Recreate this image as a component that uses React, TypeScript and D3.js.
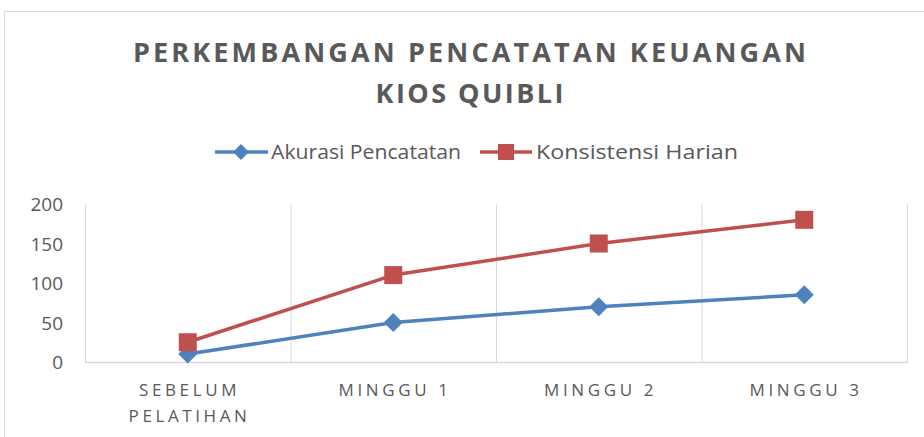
import React from "react";
import * as d3 from "d3";

const categories: string[][] = [["SEBELUM", "PELATIHAN"], ["MINGGU 1"], ["MINGGU 2"], ["MINGGU 3"]];
const akurasi: number[] = [10, 50, 70, 85];
const konsistensi: number[] = [25, 110, 150, 180];
const yTicks: number[] = [0, 50, 100, 150, 200];
const titleLines: string[] = ["PERKEMBANGAN PENCATATAN KEUANGAN", "KIOS QUIBLI"];
const seriesNames: string[] = ["Akurasi Pencatatan", "Konsistensi Harian"];

const W = 924;
const H = 437;
const FONT = "'Open Sans', 'DejaVu Sans', sans-serif";
const TEXT = "#595959";
const BLUE = "#4F81BD";
const RED = "#C0504D";
const GRID = "#D9D9D9";

export default function App() {
  const left = 85, right = 907, top = 204, bottom = 362;
  const x = d3.scaleBand<number>().domain(d3.range(categories.length)).range([left, right]).padding(0);
  const y = d3.scaleLinear().domain([0, 200]).range([bottom, top]);
  const cx = (i: number) => (x(i) as number) + x.bandwidth() / 2;
  const line = d3.line<number>().x((_, i) => cx(i)).y((d) => y(d));
  const boundaries = d3.range(categories.length + 1).map((i) => left + i * x.bandwidth());

  const diamond = (px: number, py: number, r: number) =>
    `M${px},${py - r}L${px + r},${py}L${px},${py + r}L${px - r},${py}Z`;

  return (
    <svg width={W} height={H} style={{ position: "absolute", left: 0, top: 0 }}>
      <rect x={0} y={0} width={W} height={H} fill="#fff" />
      <rect x={4.5} y={11.5} width={W + 10} height={H + 10} fill="#fff" stroke={GRID} strokeWidth={1} />
      {/* title */}
      <text x={469.5} y={62} textAnchor="middle" fontFamily={FONT} fontWeight={700} fontSize={27}
        fill={TEXT} textLength={673} lengthAdjust="spacing">{titleLines[0]}</text>
      <text x={469.5} y={103} textAnchor="middle" fontFamily={FONT} fontWeight={700} fontSize={27}
        fill={TEXT} textLength={188} lengthAdjust="spacing">{titleLines[1]}</text>
      {/* legend */}
      <g>
        <line x1={215} x2={268} y1={152} y2={152} stroke={BLUE} strokeWidth={3.5} />
        <path d={diamond(241, 152, 8)} fill={BLUE} />
        <text x={271} y={159} fontFamily={FONT} fontSize={20} fill={TEXT} textLength={190} lengthAdjust="spacingAndGlyphs">{seriesNames[0]}</text>
        <line x1={480} x2={532} y1={152} y2={152} stroke={RED} strokeWidth={3.5} />
        <rect x={498} y={144} width={16} height={16} fill={RED} />
        <text x={536} y={159} fontFamily={FONT} fontSize={20} fill={TEXT} textLength={202} lengthAdjust="spacingAndGlyphs">{seriesNames[1]}</text>
      </g>
      {/* gridlines */}
      {boundaries.map((bx, i) => (
        <line key={i} x1={bx + 0.5} x2={bx + 0.5} y1={top} y2={bottom} stroke={GRID} strokeWidth={1} />
      ))}
      <line x1={left} x2={right + 1} y1={bottom + 0.5} y2={bottom + 0.5} stroke={GRID} strokeWidth={1.5} />
      {/* y ticks */}
      {yTicks.map((t) => (
        <text key={t} x={63} y={y(t) + 7} textAnchor="end" fontFamily={FONT} fontSize={19} fill={TEXT}>{t}</text>
      ))}
      {/* x labels */}
      {categories.map((lines, i) => (
        <text key={i} textAnchor="middle" fontFamily={FONT} fontSize={17} fill={TEXT} letterSpacing={3.6}>
          {lines.map((l, j) => (
            <tspan key={j} x={cx(i) + 1.8} y={396 + j * 26}>{l}</tspan>
          ))}
        </text>
      ))}
      {/* series */}
      <path d={line(akurasi) || ""} fill="none" stroke={BLUE} strokeWidth={3.5} strokeLinejoin="round" />
      <path d={line(konsistensi) || ""} fill="none" stroke={RED} strokeWidth={3.5} strokeLinejoin="round" />
      {akurasi.map((v, i) => (
        <path key={i} d={diamond(cx(i), y(v), 9.5)} fill={BLUE} />
      ))}
      {konsistensi.map((v, i) => (
        <rect key={i} x={cx(i) - 9} y={y(v) - 9} width={18} height={18} fill={RED} />
      ))}
    </svg>
  );
}
